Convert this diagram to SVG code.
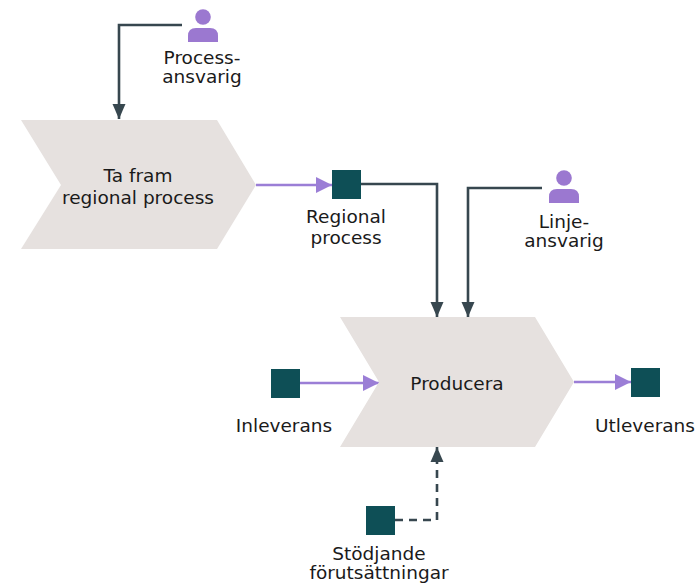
<svg xmlns="http://www.w3.org/2000/svg" width="695" height="586" viewBox="0 0 695 586">
<style>
.chev{fill:#e6e1df;}
.sq{fill:#0e4f56;}
.person{fill:#9b78d0;}
text{font-family:"DejaVu Sans","Verdana",sans-serif;font-size:18.5px;fill:#1a1a1a;text-anchor:middle;}
.dk{fill:none;stroke:#37474f;stroke-width:2.6;}
.pu{fill:none;stroke:#9b7ed6;stroke-width:2.6;}
.dash{stroke-dasharray:8 6;}
</style>
<defs>
<marker id="ad" markerUnits="userSpaceOnUse" markerWidth="15" markerHeight="14" refX="15" refY="7" orient="auto"><path d="M0,0.5 L15,7 L0,13.5 z" fill="#37474f"/></marker>
<marker id="ap" markerUnits="userSpaceOnUse" markerWidth="16" markerHeight="16" refX="16" refY="8" orient="auto"><path d="M0,0 L16,8 L0,16 z" fill="#9b7ed6"/></marker>
<g id="personIcon"><circle cx="0" cy="0" r="7.8"/><path d="M-15,25 L-15,19 Q-15,11 -7,11 L7,11 Q15,11 15,19 L15,25 Z"/></g>
</defs>
<g id="connectors">
<path class="dk" d="M182,25 H119 V119" marker-end="url(#ad)"/>
<path class="pu" d="M256,185 H332" marker-end="url(#ap)"/>
<path class="dk" d="M361,184 H437 V317" marker-end="url(#ad)"/>
<path class="dk" d="M542,188 H468 V317" marker-end="url(#ad)"/>
<path class="pu" d="M300,383 H379" marker-end="url(#ap)"/>
<path class="pu" d="M574,382 H631" marker-end="url(#ap)"/>
<path class="dk dash" d="M395,520 H437 V447" marker-end="url(#ad)"/>
</g>
<g id="ta-fram">
<polygon class="chev" points="21,120 217,120 256,185 217,249 21,249 61,185"/>
<text x="138" y="182">Ta fram</text>
<text x="138" y="204">regional process</text>
</g>
<g id="producera">
<polygon class="chev" points="340,317 535,317 574,382 535,447 340,447 379,382"/>
<text x="457" y="390">Producera</text>
</g>
<g id="processansvarig">
<use href="#personIcon" class="person" x="203" y="17"/>
<text x="202" y="64">Process-</text>
<text x="202" y="83">ansvarig</text>
</g>
<g id="linjeansvarig">
<use href="#personIcon" class="person" x="564" y="178"/>
<text x="564" y="228">Linje-</text>
<text x="564" y="247">ansvarig</text>
</g>
<g id="regional-process">
<rect class="sq" x="332" y="170" width="29" height="29"/>
<text x="346" y="223">Regional</text>
<text x="346" y="244">process</text>
</g>
<g id="inleverans">
<rect class="sq" x="271" y="369" width="29" height="29"/>
<text x="284" y="432">Inleverans</text>
</g>
<g id="utleverans">
<rect class="sq" x="631" y="368" width="29" height="29"/>
<text x="645" y="432">Utleverans</text>
</g>
<g id="stodjande">
<rect class="sq" x="366" y="506" width="29" height="29"/>
<text x="379" y="560">Stödjande</text>
<text x="379" y="579">förutsättningar</text>
</g>
</svg>
